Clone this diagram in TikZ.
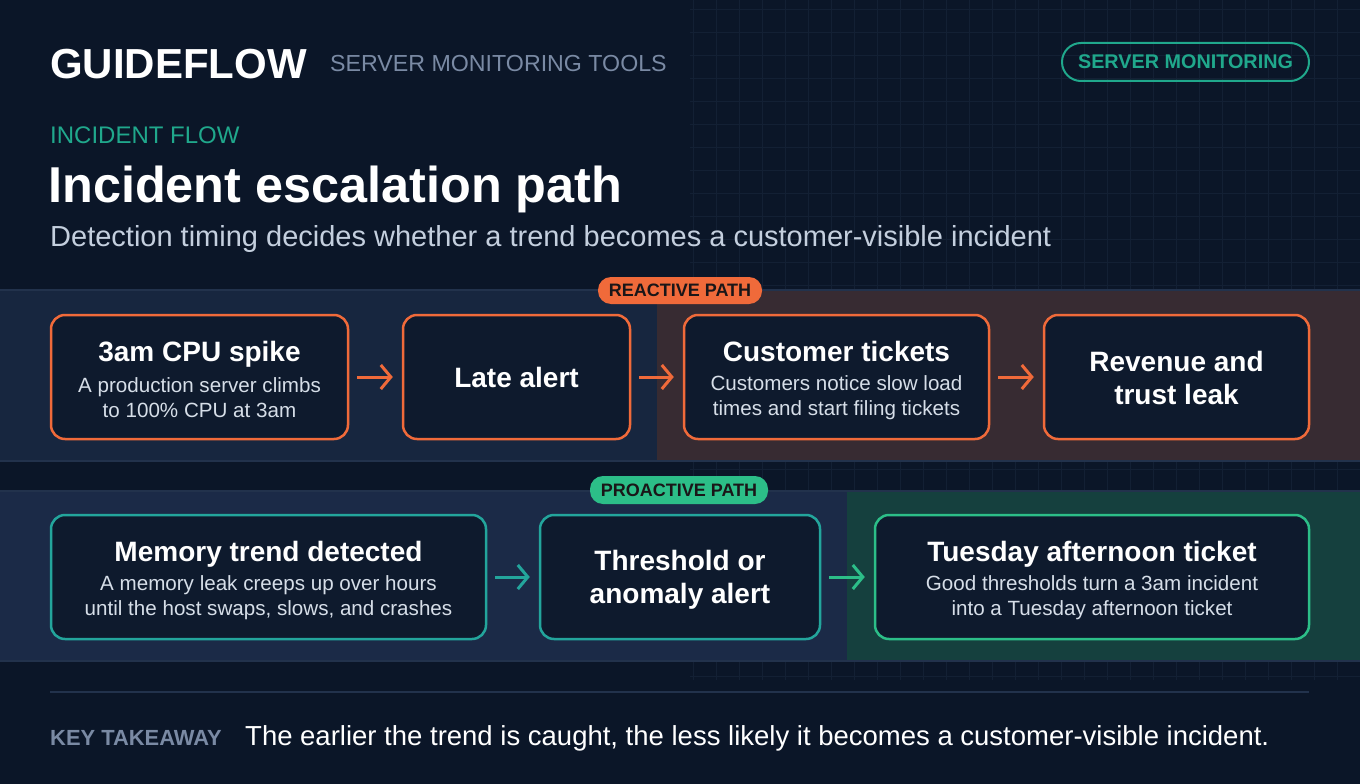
\documentclass[tikz,border=0pt]{standalone}
\usepackage{fontspec}
\setmainfont{Liberation Sans}
\usepackage{tikz}
\usetikzlibrary{arrows.meta}

\begin{document}
\begin{tikzpicture}[x=1pt, y=-1pt,
    card/.style={draw=#1, line width=2.5pt, rounded corners=14pt, fill=cardbg, inner sep=0pt},
    ctitle/.style={text=white, font=\fontsize{28}{33}\selectfont\bfseries, align=center, inner sep=0pt},
    cdesc/.style={text=desctext, font=\fontsize{20.6}{25}\selectfont, align=center},
    pathtag/.style={fill=#1, rounded corners=13pt, text=tagtext, inner sep=0pt,
        font=\fontsize{18}{20}\selectfont\bfseries},
    flow/.style={draw=#1, line width=3pt, -{Straight Barb[length=10pt, width=24pt, line width=3pt]},
        shorten <=8pt, shorten >=9pt}]

    % Couleurs
    \definecolor{pagebg}{RGB}{11, 22, 40}
    \definecolor{gridc}{RGB}{19, 32, 52}
    \definecolor{cardbg}{RGB}{14, 26, 45}
    \definecolor{desctext}{RGB}{214, 222, 232}
    \definecolor{muted}{RGB}{122, 138, 164}
    \definecolor{subtext}{RGB}{196, 207, 222}
    \definecolor{teal}{RGB}{32, 168, 140}
    \definecolor{tagtext}{RGB}{26, 22, 24}
    \definecolor{hot}{RGB}{240, 106, 58}
    \definecolor{calm}{RGB}{35, 165, 156}
    \definecolor{fresh}{RGB}{44, 190, 136}
    \definecolor{reactL}{RGB}{23, 38, 63}
    \definecolor{reactR}{RGB}{55, 43, 50}
    \definecolor{proL}{RGB}{27, 42, 71}
    \definecolor{proR}{RGB}{21, 64, 62}
    \definecolor{bandline}{RGB}{34, 50, 76}

    % Fond et grille
    \useasboundingbox (0,0) rectangle (1360,784);
    \clip (0,0) rectangle (1360,784);
    \fill[pagebg] (0,0) rectangle (1360,784);
    \foreach \x in {0,...,29} {
        \draw[gridc, line width=0.8pt] (693+23*\x, 0) -- (693+23*\x, 680);
    }
    \foreach \y in {0,...,29} {
        \draw[gridc, line width=0.8pt] (690, 9+23*\y) -- (1360, 9+23*\y);
    }

    % En-tete
    \node[anchor=base west, inner sep=0pt, text=white, font=\fontsize{42}{46}\selectfont\bfseries] (brand) at (50,78) {GUIDEFLOW};
    \node[anchor=base west, inner sep=0pt, text=muted, font=\fontsize{23.2}{26}\selectfont] (product) at (330,72) {SERVER MONITORING TOOLS};
    \node[draw=teal, line width=2pt, rounded corners=19pt, minimum width=247, minimum height=38, inner sep=0pt,
        text=teal, font=\fontsize{19.8}{22}\selectfont\bfseries] (topic) at (1185.5,62) {SERVER MONITORING};

    \node[anchor=base west, inner sep=0pt, text=teal, font=\fontsize{24}{28}\selectfont] (kicker) at (50,143) {INCIDENT FLOW};
    \node[anchor=base west, inner sep=0pt, text=white, font=\fontsize{50.4}{56}\selectfont\bfseries] (headline) at (48,202) {Incident escalation path};
    \node[anchor=base west, inner sep=0pt, text=subtext, font=\fontsize{29}{33}\selectfont] (subline) at (50,246) {Detection timing decides whether a trend becomes a customer-visible incident};

    % Bandes
    \fill[reactL] (0,290) rectangle (657,461);
    \fill[reactR] (657,290) rectangle (1360,461);
    \draw[bandline, line width=1.5pt] (0,290) -- (1360,290) (0,461) -- (1360,461);
    \fill[proL] (0,491) rectangle (847,661);
    \fill[proR] (847,491) rectangle (1360,661);
    \draw[bandline, line width=1.5pt] (0,491) -- (1360,491) (0,661) -- (1360,661);

    \node[pathtag=hot, minimum width=164, minimum height=27] (reactive) at (680,290.5) {REACTIVE PATH};
    \node[pathtag=fresh, minimum width=178, minimum height=28] (proactive) at (679,490) {PROACTIVE PATH};

    % Chemin reactif
    \node[card=hot, minimum width=297, minimum height=124] (spike) at (199.5,377) {};
    \node[ctitle, anchor=base] (spikeT) at (199.5,361) {3am CPU spike};
    \node[cdesc] (spikeD) at (199.5,398) {A production server climbs\\to 100\% CPU at 3am};

    \node[card=hot, minimum width=227, minimum height=124] (late) at (516.5,377) {};
    \node[ctitle, anchor=base] (lateT) at (516.5,387) {Late alert};

    \node[card=hot, minimum width=305, minimum height=124] (tickets) at (836.5,377) {};
    \node[ctitle, anchor=base] (ticketsT) at (836.5,361) {Customer tickets};
    \node[cdesc] (ticketsD) at (836.5,398) {Customers notice slow load\\times and start filing tickets};

    \node[card=hot, minimum width=265, minimum height=124] (leak) at (1176.5,377) {};
    \node[ctitle] (leakT) at (1176.5,378) {Revenue and\\trust leak};

    \draw[flow=hot] (spike.east) -- (late.west);
    \draw[flow=hot] (late.east) -- (tickets.west);
    \draw[flow=hot] (tickets.east) -- (leak.west);

    % Chemin proactif
    \node[card=calm, minimum width=435, minimum height=124] (memory) at (268.5,577) {};
    \node[ctitle, anchor=base] (memoryT) at (268.5,561) {Memory trend detected};
    \node[cdesc] (memoryD) at (268.5,598) {A memory leak creeps up over hours\\until the host swaps, slows, and crashes};

    \node[card=calm, minimum width=280, minimum height=124] (alert) at (680,577) {};
    \node[ctitle] (alertT) at (680,580) {Threshold or\\anomaly alert};

    \node[card=fresh, minimum width=434, minimum height=124] (tuesday) at (1092,577) {};
    \node[ctitle, anchor=base] (tuesdayT) at (1092,561) {Tuesday afternoon ticket};
    \node[cdesc] (tuesdayD) at (1092,598) {Good thresholds turn a 3am incident\\into a Tuesday afternoon ticket};

    \draw[flow=calm] (memory.east) -- (alert.west);
    \draw[flow=fresh] (alert.east) -- (tuesday.west);

    % A retenir
    \draw[bandline, line width=2pt] (50,692) -- (1309,692);
    \node[anchor=base west, inner sep=0pt, text=muted, font=\fontsize{21.9}{24}\selectfont\bfseries] (keyword) at (50,745) {KEY TAKEAWAY};
    \node[anchor=base west, inner sep=0pt, text=white, font=\fontsize{27.5}{30}\selectfont] (takeaway) at (245,745) {The earlier the trend is caught, the less likely it becomes a customer-visible incident.};

\end{tikzpicture}
\end{document}
